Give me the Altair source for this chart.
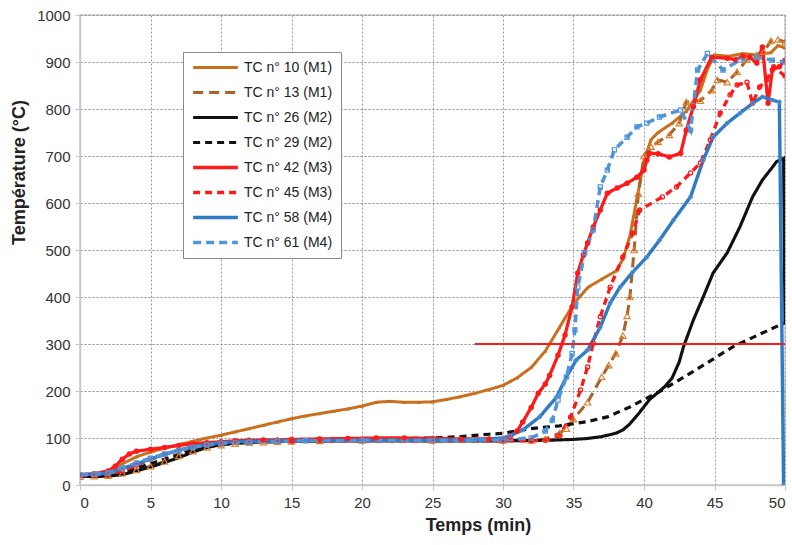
import altair as alt
import pandas as pd

# ---------------- data ----------------
series_names = ["TC n° 10 (M1)", "TC n° 13 (M1)", "TC n° 26 (M2)", "TC n° 29 (M2)",
                "TC n° 42 (M3)", "TC n° 45 (M3)", "TC n° 58 (M4)", "TC n° 61 (M4)"]

t10 = [0, 1, 2, 3, 4, 5, 6, 7, 8, 9, 10, 11, 12, 13, 14, 15, 16, 17, 18, 19, 20, 21, 22, 23, 24, 25, 26, 27, 28, 29, 30,
       31, 32, 33, 34, 35, 36, 37, 38, 38.5, 39, 39.5, 40, 40.5, 41, 42, 43, 44, 44.5, 45, 46, 47, 48, 49, 49.5, 50]
v10 = [20, 21, 28, 45, 60, 70, 78, 86, 93, 100, 106, 113, 120, 127, 134, 141, 147, 152, 157, 162, 168, 176, 178, 176, 176, 177, 182, 188, 195, 203, 212,
       228, 250, 285, 335, 385, 420, 438, 455, 480, 530, 610, 690, 735, 750, 770, 795, 840, 885, 915, 912, 918, 915, 920, 935, 930]

t13 = [0, 1, 2, 3, 4, 5, 6, 7, 8, 9, 10, 11, 12, 13, 14, 15, 17, 20, 25, 30, 32, 33, 34, 34.5, 35, 36, 37, 37.5, 38, 38.5, 38.8,
       39, 39.3, 39.6, 40, 40.5, 41, 41.8, 42.5, 43, 44, 44.8, 45.2, 45.9, 46.6, 47.3, 48, 48.5, 49, 49.5, 50]
v13 = [18, 19, 20, 25, 32, 40, 50, 62, 72, 80, 85, 88, 90, 91, 92, 93, 94, 95, 95, 95, 95, 98, 110, 120, 140, 176, 230, 255, 280, 318, 360,
       400, 500, 620, 700, 720, 730, 745, 770, 815, 818, 840, 862, 857, 879, 905, 915, 922, 945, 948, 942]

t26 = [0, 1, 2, 3, 4, 5, 6, 7, 8, 9, 10, 11, 12, 13, 15, 20, 25, 30, 33, 35, 36, 37, 38, 38.5, 39, 39.7, 40.4, 41, 41.5, 42, 42.5,
       42.8, 43.5, 44.2, 44.9, 45.9, 46.8, 47.7, 48.4, 49, 49.4, 49.9, 50]
v26 = [18, 18, 19, 22, 30, 38, 48, 58, 70, 80, 86, 89, 91, 92, 93, 94, 94, 94, 95, 97, 99, 103, 110, 117, 130, 155, 182, 197, 210, 228, 262,
       294, 351, 400, 451, 494, 549, 613, 649, 672, 688, 695, 345]

t29 = [0, 1, 2, 3, 4, 5, 6, 7, 8, 9, 10, 12, 15, 20, 25, 27, 29, 30, 32, 34, 36, 37.4, 39, 40.2, 41.3, 43.3, 46.3, 48, 49.6, 50]
v29 = [20, 20, 22, 28, 36, 45, 55, 65, 75, 82, 87, 92, 95, 97, 100, 103, 108, 110, 120, 126, 135, 145, 166, 185, 202, 238, 294, 318, 340, 345]

t42 = [0, 1, 2, 2.5, 3, 3.5, 4, 5, 6, 7, 8, 9, 10, 11, 12, 13, 14, 15, 17, 19, 21, 23, 25, 27, 29, 30, 30.5, 31, 31.4, 32, 32.5, 33,
       33.3, 33.9, 34.4, 34.9, 35.3, 35.7, 36, 36.4, 36.9, 37.4, 38.1, 38.8, 39.5, 40, 40.2, 40.4, 41, 41.8, 42.6, 43, 43.5, 44, 44.8,
       45.9, 46.5, 47, 47.5, 48, 48.4, 48.8, 49.1, 49.6, 50]
v42 = [22, 24, 30, 40, 55, 66, 72, 76, 80, 84, 88, 90, 92, 94, 95, 96, 96, 97, 98, 99, 100, 100, 99, 98, 98, 99, 102, 115, 134, 165, 195, 215,
       233, 276, 319, 379, 451, 490, 515, 549, 585, 621, 632, 642, 655, 670, 691, 706, 705, 698, 706, 755, 805, 862, 910,
       908, 905, 912, 910, 898, 932, 812, 883, 890, 904]

t45 = [0, 1, 2, 3, 4, 5, 6, 7, 8, 9, 10, 12, 15, 20, 25, 30, 32, 33, 34, 34.8, 35.5, 36, 36.4, 36.9, 37.6, 38.5, 39.2, 39.7,
       41.3, 42.3, 43.3, 44, 44.7, 45.4, 46.1, 46.6, 47.3, 47.7, 48.2, 48.7, 49.2, 50]
v45 = [20, 20, 22, 30, 42, 55, 65, 73, 80, 85, 88, 91, 93, 94, 94, 94, 94, 95, 105, 145, 202, 251, 302, 358, 421, 485, 536, 585,
       613, 634, 664, 685, 734, 791, 830, 851, 857, 812, 847, 862, 890, 870]

t58 = [0, 1, 2, 3, 4, 5, 6, 7, 8, 9, 10, 11, 12, 14, 16, 20, 25, 28, 30, 30.5, 31.4, 32.6, 33.8, 34.5, 35.2, 36, 36.9, 37.6, 38.3,
       39.2, 40.2, 41.1, 42.1, 43.3, 44.2, 44.9, 45.9, 46.8, 47.7, 48.4, 49.1, 49.6, 49.9]
v58 = [22, 23, 25, 35, 45, 55, 65, 74, 81, 86, 90, 92, 93, 94, 95, 95, 95, 96, 100, 105, 117, 145, 187, 230, 266, 287, 336, 387, 421,
       453, 485, 521, 564, 613, 691, 740, 770, 791, 812, 826, 819, 815, 0]

t61 = [0, 1, 2, 3, 4, 5, 6, 7, 8, 9, 10, 12, 14, 16, 20, 25, 30, 32, 33, 33.5, 33.9, 34.5, 34.9, 35.1, 35.3, 35.8, 36.4, 36.9, 37.4,
       37.9, 38.8, 39.5, 40.2, 41.1, 42.6, 43.3, 43.8, 44.5, 45.6, 46.8, 48, 49.1, 50]
v61 = [22, 23, 26, 36, 47, 57, 66, 74, 80, 85, 88, 91, 93, 94, 95, 95, 96, 100, 115, 138, 181, 230, 280, 330, 421, 494, 543, 634, 670,
       713, 740, 762, 770, 783, 798, 755, 883, 918, 883, 904, 910, 904, 900]

limit_t = [28, 50]
limit_v = [300, 300]

x_ticks = [0, 5, 10, 15, 20, 25, 30, 35, 40, 45, 50]
y_ticks = [0, 50, 100, 150, 200, 250, 300, 350, 400, 450, 500, 550, 600, 650, 700, 750, 800, 850, 900, 950, 1000]

# ---------------- styles ----------------
line_colors = ["#C8701E", "#A8632A", "#111111", "#111111", "#FF1A1A", "#FF1A1A", "#2F7BC4", "#4F95D8"]
line_dashes = [[1, 0], [10, 6], [1, 0], [7, 5], [1, 0], [7, 5], [1, 0], [8, 5]]
line_widths = [3, 3.5, 2.2, 2, 2, 1.8, 1.6, 1.8]
marker_shapes = ["triangle-up", "triangle-up", None, None, "circle", "circle", "circle", "square"]
marker_filled = [True, False, False, False, True, False, False, False]
marker_sizes = [14, 40, 0, 0, 30, 18, 12, 18]
marker_colors = ["#C8701E", "#E0812F", None, None, "#FF1A1A", "#FF1A1A", "#4F95D8", "#4F95D8"]

all_t = [t10, t13, t26, t29, t42, t45, t58, t61]
all_v = [v10, v13, v26, v29, v42, v45, v58, v61]

rows = []
for name, ts, vs in zip(series_names, all_t, all_v):
    for i, (t, v) in enumerate(zip(ts, vs)):
        rows.append({"serie": name, "t": t, "v": v, "i": i})
df = pd.DataFrame(rows)
limit_df = pd.DataFrame({"t": limit_t, "v": limit_v})

FONT = "Liberation Sans"

x_enc = alt.X("t:Q", scale=alt.Scale(domain=[0, 50], nice=False),
              axis=alt.Axis(values=x_ticks, title="Temps (min)", format="d",
                            grid=True, gridColor="#9a9a9a", gridDash=[2, 2], gridWidth=1,
                            domainColor="#c8c8c8", domainWidth=1.5,
                            tickColor="#c8c8c8", tickSize=5,
                            labelFontSize=15, labelColor="#333333", labelFont=FONT, labelPadding=5,
                            titleFontSize=18, titleFont=FONT, titleFontWeight="bold",
                            titleColor="#222222", titlePadding=6, titleX=398))
y_enc = alt.Y("v:Q", scale=alt.Scale(domain=[0, 1000], nice=False),
              axis=alt.Axis(values=y_ticks, title="Température (°C)", format="d",
                            labelExpr="datum.value % 100 == 0 ? datum.label : ''",
                            grid=True,
                            gridColor={"condition": {"test": "datum.value % 100 == 0", "value": "#8a8a8a"}, "value": "#c4c4c4"},
                            gridDash=[2, 2], gridWidth=1,
                            domainColor="#c8c8c8", domainWidth=1.5,
                            tickColor="#c8c8c8", tickSize=5,
                            labelFontSize=15, labelColor="#333333", labelFont=FONT, labelPadding=5,
                            titleFontSize=18, titleFont=FONT, titleFontWeight="bold",
                            titleColor="#222222", titlePadding=8, titleY=157))

legend = alt.Legend(title=None, orient="none", legendX=103, legendY=37,
                    symbolType="stroke", symbolSize=2000, symbolStrokeWidth=2.5,
                    labelFontSize=14, labelFont=FONT, labelColor="#222222",
                    clipHeight=15, rowPadding=10, padding=8,
                    strokeColor="#8a8a8a", fillColor="white",
                    labelOffset=4)

lines = alt.Chart(df).mark_line(clip=True).encode(
    x=x_enc, y=y_enc,
    color=alt.Color("serie:N", scale=alt.Scale(domain=series_names, range=line_colors), legend=legend),
    strokeDash=alt.StrokeDash("serie:N", scale=alt.Scale(domain=series_names, range=line_dashes), legend=legend),
    strokeWidth=alt.StrokeWidth("serie:N", scale=alt.Scale(domain=series_names, range=line_widths), legend=legend),
    order="i:Q",
)

layers = [lines]
for k, name in enumerate(series_names):
    if marker_shapes[k] is None:
        continue
    pts = alt.Chart(df).transform_filter(alt.datum.serie == name).mark_point(
        shape=marker_shapes[k], filled=marker_filled[k], size=marker_sizes[k],
        color=marker_colors[k], strokeWidth=1.2, opacity=1, clip=True
    ).encode(x="t:Q", y="v:Q")
    layers.append(pts)

limit = alt.Chart(limit_df).mark_line(color="#FF1A1A", strokeWidth=1.8).encode(x="t:Q", y="v:Q")
layers.append(limit)

chart = alt.layer(*layers).properties(
    width=705, height=470,
    autosize=alt.AutoSizeParams(type="none"),
    padding={"left": 80, "top": 15, "right": 7, "bottom": 60},
    background="white",
).configure_view(stroke="#c8c8c8", strokeWidth=1.5)

chart.save("out.html", embed_options={"renderer": "svg", "actions": False})
